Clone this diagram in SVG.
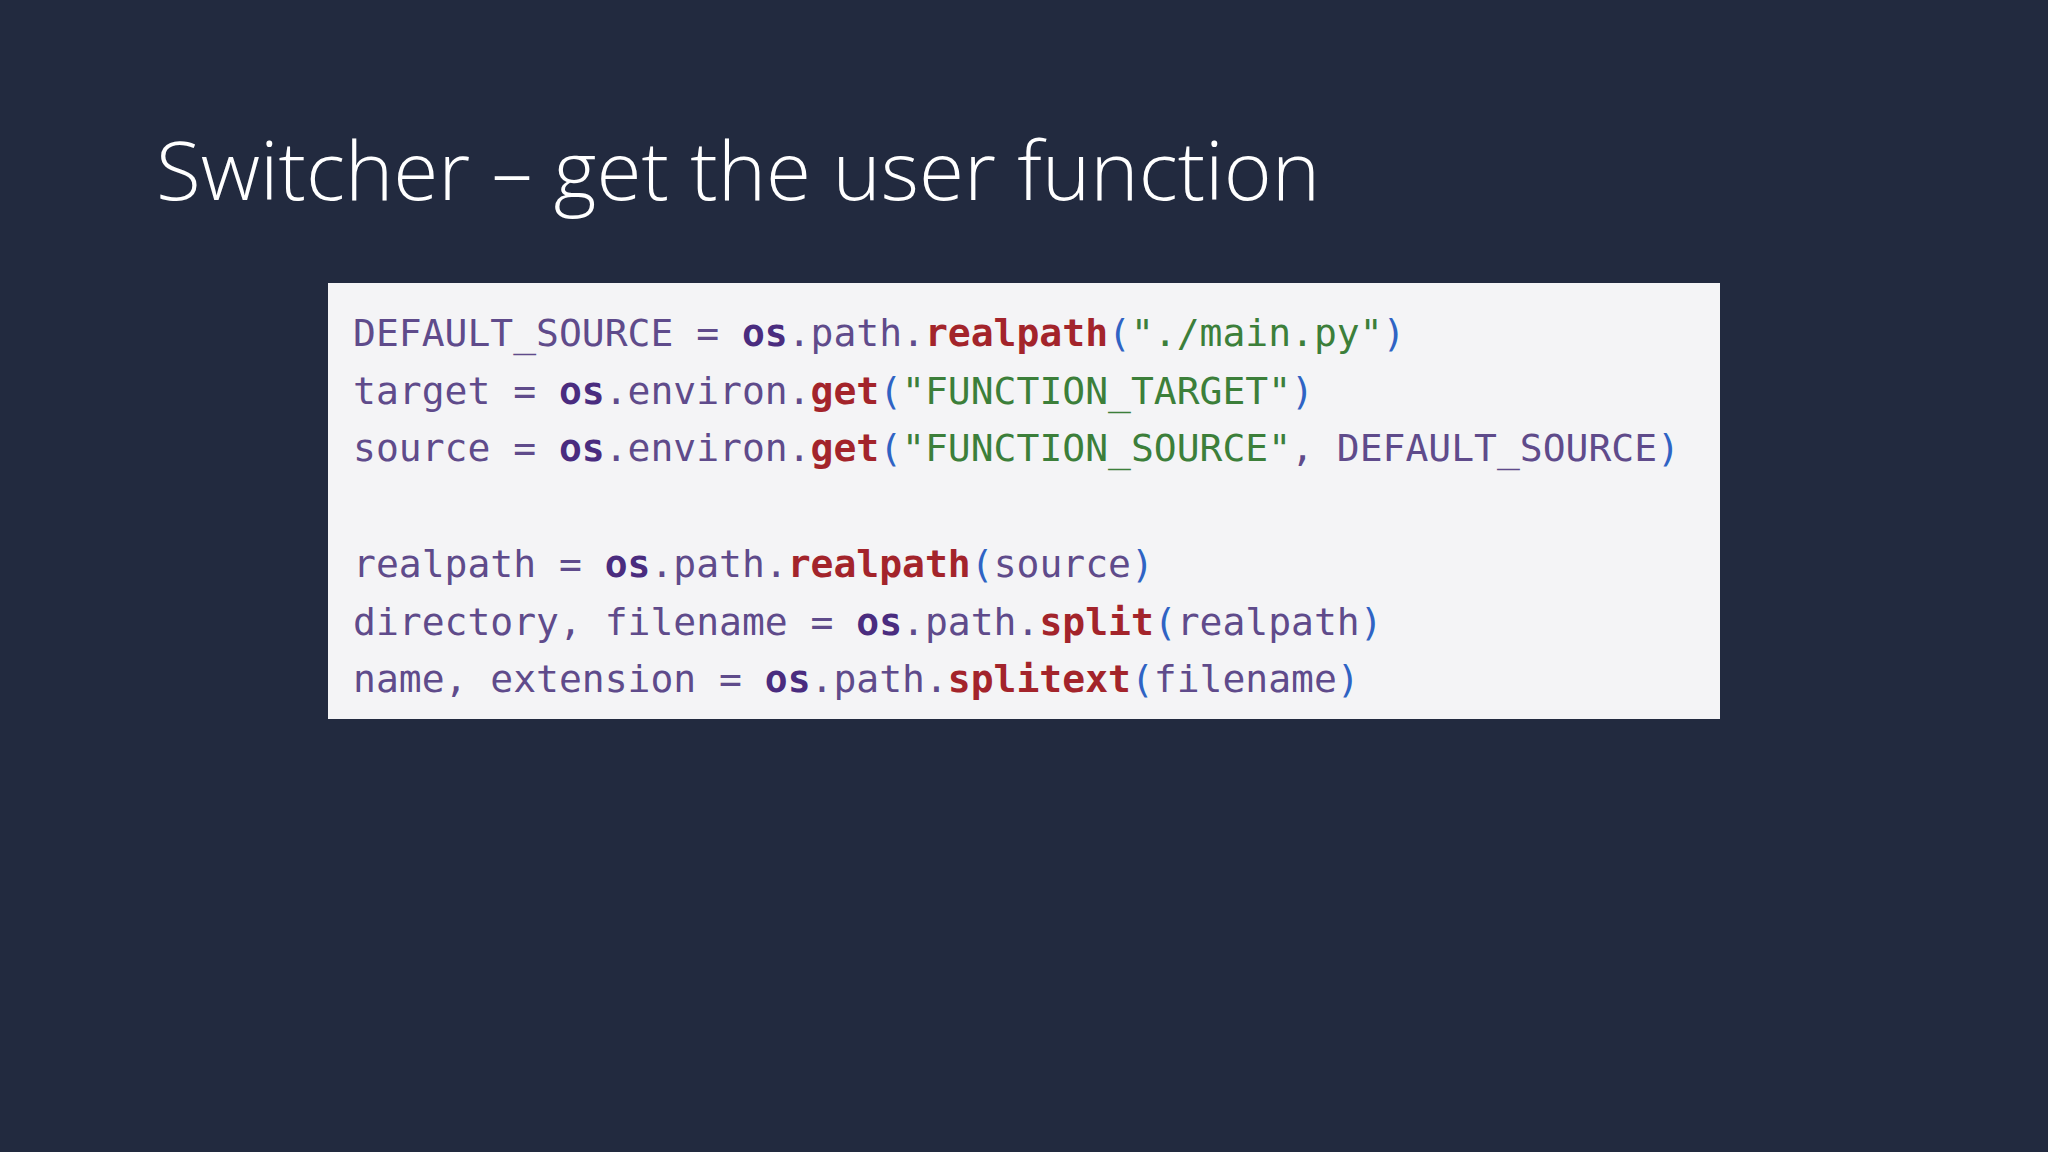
<svg xmlns="http://www.w3.org/2000/svg" width="2048" height="1152" viewBox="0 0 2048 1152">
<style>
.c{font-family:"DejaVu Sans Mono","Liberation Mono",monospace;font-size:38px;fill:#5f4b8b}
.k{font-weight:bold;fill:#4a2c7f}
.f{font-weight:bold;fill:#a3242b}
.p{fill:#2f63c4}
.s{fill:#3c7f3a}
</style>
<rect width="2048" height="1152" fill="#222a3f"/>
<text x="156" y="200" font-family="'Open Sans','Liberation Sans',sans-serif" font-weight="300" font-size="82" fill="#ffffff">Switcher – get the user function</text>
<g id="code">
<rect x="328" y="283" width="1392" height="436" fill="#f4f4f6"/>
<text class="c" x="353" y="346" xml:space="preserve">DEFAULT_SOURCE = <tspan class="k">os</tspan>.path.<tspan class="f">realpath</tspan><tspan class="p">(</tspan><tspan class="s">"./main.py"</tspan><tspan class="p">)</tspan></text>
<text class="c" x="353" y="404" xml:space="preserve">target = <tspan class="k">os</tspan>.environ.<tspan class="f">get</tspan><tspan class="p">(</tspan><tspan class="s">"FUNCTION_TARGET"</tspan><tspan class="p">)</tspan></text>
<text class="c" x="353" y="461" xml:space="preserve">source = <tspan class="k">os</tspan>.environ.<tspan class="f">get</tspan><tspan class="p">(</tspan><tspan class="s">"FUNCTION_SOURCE"</tspan>, DEFAULT_SOURCE<tspan class="p">)</tspan></text>
<text class="c" x="353" y="577" xml:space="preserve">realpath = <tspan class="k">os</tspan>.path.<tspan class="f">realpath</tspan><tspan class="p">(</tspan>source<tspan class="p">)</tspan></text>
<text class="c" x="353" y="635" xml:space="preserve">directory, filename = <tspan class="k">os</tspan>.path.<tspan class="f">split</tspan><tspan class="p">(</tspan>realpath<tspan class="p">)</tspan></text>
<text class="c" x="353" y="692" xml:space="preserve">name, extension = <tspan class="k">os</tspan>.path.<tspan class="f">splitext</tspan><tspan class="p">(</tspan>filename<tspan class="p">)</tspan></text>
</g>
</svg>
